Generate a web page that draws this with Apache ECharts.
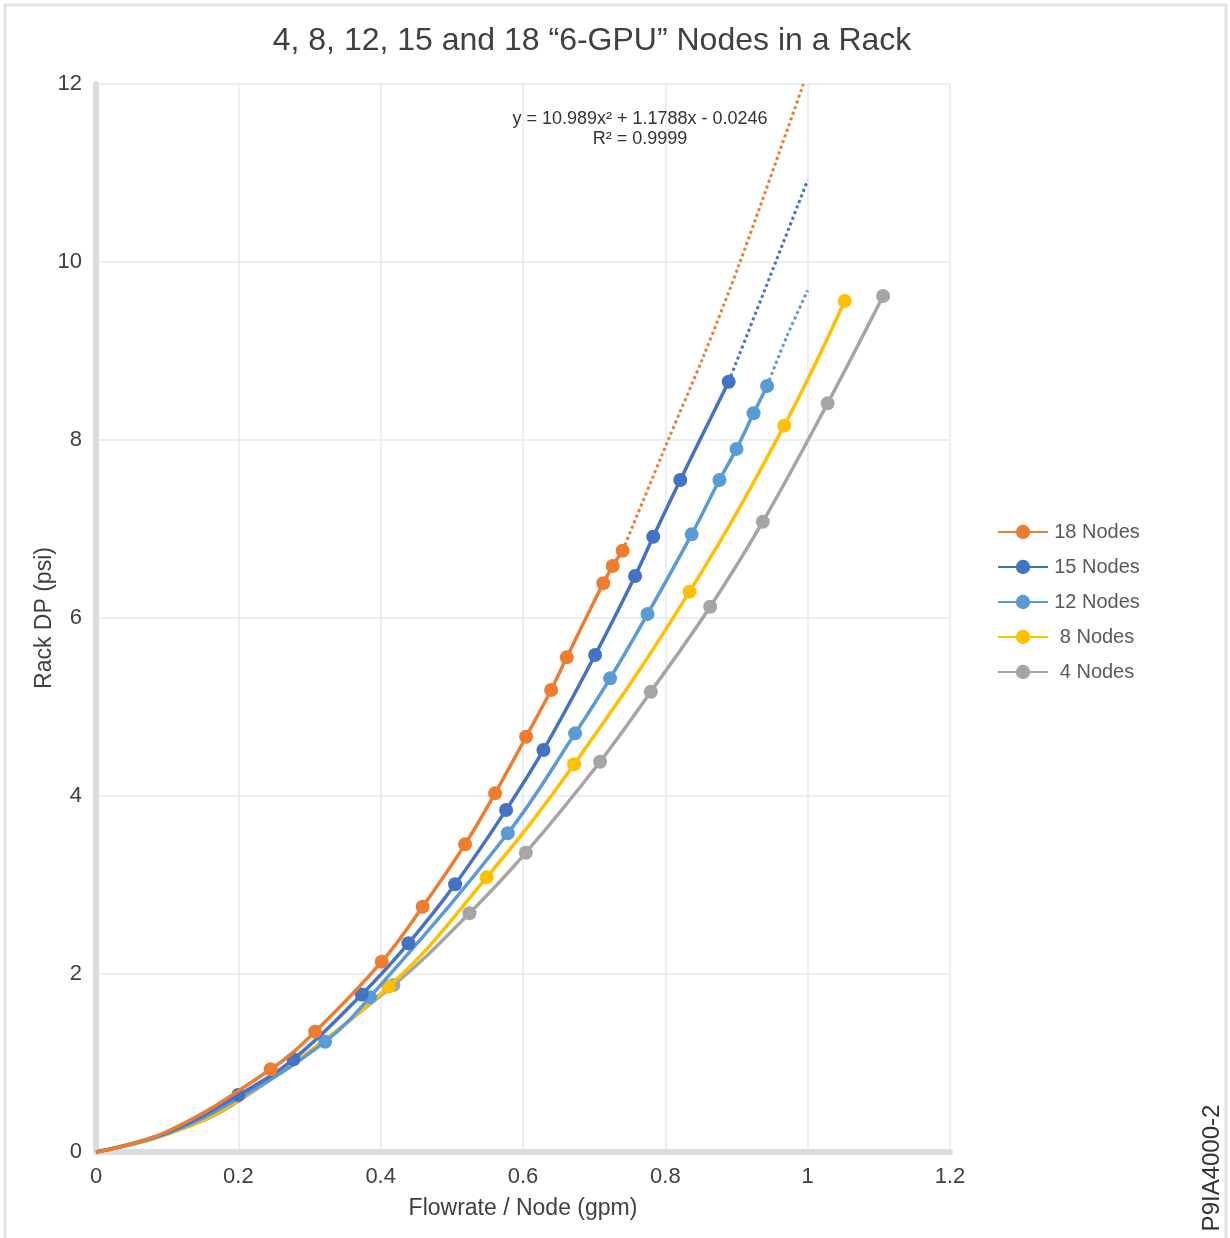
<!DOCTYPE html>
<html><head><meta charset="utf-8">
<script src="https://cdn.jsdelivr.net/npm/echarts@6/dist/echarts.min.js"></script>
<style>html,body{margin:0;padding:0;background:#fff}#c{width:1230px;height:1238px}</style>
</head><body><div id="c"></div>
<script>
// ---- data ----
const xTicks = [0, 0.2, 0.4, 0.6, 0.8, 1, 1.2];
const yTicks = [0, 2, 4, 6, 8, 10, 12];
const seriesNames = ['18 Nodes', '15 Nodes', '12 Nodes', '8 Nodes', '4 Nodes'];

// marked points
const n18X = [0.2455, 0.3078, 0.4015, 0.459, 0.5186, 0.5608, 0.6044, 0.6395, 0.6615, 0.7128, 0.726, 0.740];
const n18Y = [0.929, 1.352, 2.138, 2.756, 3.457, 4.03, 4.666, 5.191, 5.558, 6.39, 6.584, 6.756];
const n15X = [0.2, 0.2774, 0.3734, 0.439, 0.5046, 0.5762, 0.6287, 0.7013, 0.7575, 0.783, 0.821, 0.889];
const n15Y = [0.64, 1.042, 1.77, 2.345, 3.008, 3.843, 4.517, 5.584, 6.472, 6.913, 7.55, 8.655];
const n12X = [0.3219, 0.385, 0.5786, 0.6732, 0.7224, 0.775, 0.837, 0.876, 0.9, 0.924, 0.943];
const n12Y = [1.239, 1.74, 3.581, 4.704, 5.322, 6.045, 6.94, 7.55, 7.90, 8.30, 8.607];
const n8X = [0.411, 0.549, 0.6718, 0.834, 0.967, 1.052];
const n8Y = [1.857, 3.086, 4.356, 6.296, 8.161, 9.562];
const n4X = [0.418, 0.5247, 0.604, 0.7083, 0.7796, 0.863, 0.937, 1.028, 1.106];
const n4Y = [1.876, 2.682, 3.363, 4.385, 5.172, 6.127, 7.082, 8.412, 9.618];

// unmarked points along each curve near the origin
const n18PathX = [0, 0.1];       const n18PathY = [0, 0.23];
const n15PathX = [0, 0.1];       const n15PathY = [0, 0.22];
const n12PathX = [0, 0.1, 0.2];  const n12PathY = [0, 0.21, 0.6];
const n8PathX = [0, 0.1, 0.2];   const n8PathY = [0, 0.2, 0.58];
const n4PathX = [0, 0.1, 0.2];   const n4PathY = [0, 0.2, 0.57];

// dotted trend-line extensions
const t18X = [0.740, 0.804, 0.854, 0.905, 0.994];
const t18Y = [6.756, 8.0, 8.95, 10.0, 12.0];
const t15X = [0.889, 0.947, 1.0];
const t15Y = [8.655, 9.835, 10.92];
const t12X = [0.943, 0.971, 1.0];
const t12Y = [8.607, 9.17, 9.68];

const equationText = 'y = 10.989x\u00B2 + 1.1788x - 0.0246';
const r2Text = 'R\u00B2 = 0.9999';
const titleText = '4, 8, 12, 15 and 18 \u201C6-GPU\u201D Nodes in a Rack';
const xName = 'Flowrate / Node (gpm)';
const yName = 'Rack DP (psi)';
const figId = 'P9IA4000-2';

// ---- build ----
const colors = ['#ED7D31', '#4472C4', '#5B9BD5', '#FFC000', '#A5A5A5'];
const FONT = '"Liberation Sans", Arial, sans-serif';
const TXT = '#404040';

function build(mx, my, px, py) {
  const pts = [];
  px.forEach((x, i) => pts.push({ value: [x, py[i]], symbol: 'none' }));
  mx.forEach((x, i) => pts.push({ value: [x, my[i]] }));
  pts.sort((a, b) => a.value[0] - b.value[0]);
  return pts;
}
function zip(xs, ys) { return xs.map((x, i) => [x, ys[i]]); }

const mainData = [
  build(n18X, n18Y, n18PathX, n18PathY),
  build(n15X, n15Y, n15PathX, n15PathY),
  build(n12X, n12Y, n12PathX, n12PathY),
  build(n8X, n8Y, n8PathX, n8PathY),
  build(n4X, n4Y, n4PathX, n4PathY)
];
const trends = [[0, zip(t18X, t18Y)], [1, zip(t15X, t15Y)], [2, zip(t12X, t12Y)]];

const series = [];
trends.forEach(([i, d]) => {
  series.push({
    name: seriesNames[i] + ' trend', type: 'line', data: d, smooth: 0.3,
    symbol: 'none', z: 1, silent: true,
    lineStyle: { color: colors[i], width: 3, type: [3, 3], cap: 'butt' }
  });
});
mainData.forEach((d, i) => {
  series.push({
    name: seriesNames[i], type: 'line', data: d, smooth: 0.4,
    symbol: 'circle', symbolSize: 14, showAllSymbol: true, z: 10 - i,
    lineStyle: { color: colors[i], width: 3.5 },
    itemStyle: { color: colors[i] },
    emphasis: { disabled: true }
  });
});

const chart = echarts.init(document.getElementById('c'), null, { renderer: 'canvas' });
chart.setOption({
  animation: false,
  backgroundColor: '#ffffff',
  textStyle: { fontFamily: FONT },
  title: {
    text: titleText, left: 587, top: 20, textAlign: 'center',
    textStyle: { fontSize: 32, fontWeight: 'normal', color: TXT, fontFamily: FONT }
  },
  legend: {
    data: seriesNames, orient: 'vertical', left: 992, top: 517,
    itemWidth: 50, itemHeight: 18, itemGap: 15,
    formatter: n => '{a|' + n + '}',
    textStyle: { fontFamily: FONT, rich: { a: { width: 88, align: 'center', fontSize: 20, color: '#595959', fontFamily: FONT } } }
  },
  grid: { left: 96, right: 280, top: 84, bottom: 86, containLabel: false },
  xAxis: {
    type: 'value', min: xTicks[0], max: xTicks[xTicks.length - 1], interval: xTicks[1] - xTicks[0],
    axisLine: { show: true, lineStyle: { color: '#d9dde2', width: 6 } },
    axisTick: { show: false },
    splitLine: { show: true, lineStyle: { color: '#e6e9ed', width: 1.5 } },
    axisLabel: { fontSize: 22, color: TXT, margin: 14, fontFamily: FONT },
    name: xName, nameLocation: 'middle', nameGap: 45,
    nameTextStyle: { fontSize: 23, color: TXT, fontFamily: FONT }
  },
  yAxis: {
    type: 'value', min: yTicks[0], max: yTicks[yTicks.length - 1], interval: yTicks[1] - yTicks[0],
    axisLine: { show: true, lineStyle: { color: '#d9dde2', width: 6 } },
    axisTick: { show: false },
    splitLine: { show: true, lineStyle: { color: '#e6e9ed', width: 1.5 } },
    axisLabel: { fontSize: 22, color: TXT, margin: 14, fontFamily: FONT },
    name: yName, nameLocation: 'middle', nameGap: 40, nameRotate: 90, nameMoveOverlap: false,
    nameTextStyle: { fontSize: 23, color: TXT, fontFamily: FONT }
  },
  graphic: [
    { type: 'rect', silent: true, z: -10, shape: { x: 5, y: 5, width: 1221, height: 1250 },
      style: { fill: null, stroke: '#dfe2e6', lineWidth: 3 } },
    { type: 'text', x: 640, y: 119, silent: true, z: 20,
      style: { text: equationText, font: '18px ' + FONT, fill: '#333', align: 'center', verticalAlign: 'middle' } },
    { type: 'text', x: 640, y: 139, silent: true, z: 20,
      style: { text: r2Text, font: '18px ' + FONT, fill: '#333', align: 'center', verticalAlign: 'middle' } },
    { type: 'text', x: 1212, y: 1168, rotation: Math.PI / 2, silent: true,
      style: { text: figId, font: '24px ' + FONT, fill: '#333', align: 'center', verticalAlign: 'middle' } }
  ],
  series: series
});
</script>
</body></html>
